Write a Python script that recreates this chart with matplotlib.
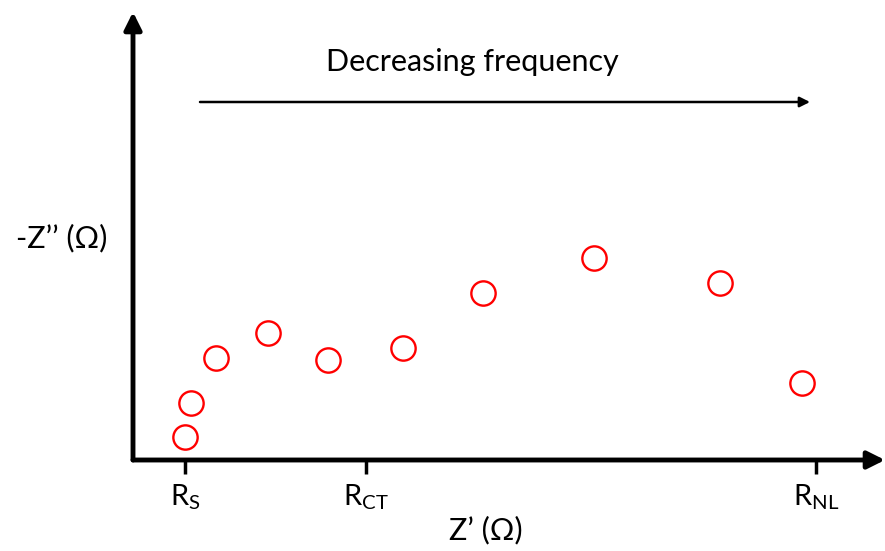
import matplotlib.pyplot as plt

plt.rcParams['font.family'] = ['Lato', 'DejaVu Sans']

# impedance points (arbitrary units)
zre = [52, 58, 83, 135, 195, 270, 350, 461, 587, 669]
zim = [23, 57, 102, 127, 100, 112, 167, 202, 177, 77]

tick_pos = [52, 233, 683]
tick_labels = [r'$\mathregular{R_S}$', r'$\mathregular{R_{CT}}$', r'$\mathregular{R_{NL}}$']

fig = plt.figure(figsize=(8.85, 5.51), dpi=100)
ax = fig.add_axes([133/885, 91/551, 752/885, 448/551])
ax.set_xlim(0, 752)
ax.set_ylim(0, 448)

ax.plot(zre, zim, 'o', ms=17.5, mfc='none', mec='red', mew=1.7, clip_on=False)

for s in ax.spines.values():
    s.set_visible(False)

# axis arrows
ax.annotate('', xy=(0, 1), xytext=(0, 0), xycoords='axes fraction',
            arrowprops=dict(arrowstyle='-|>', lw=3.5, color='black', mutation_scale=26,
                            shrinkA=0, shrinkB=0))
ax.annotate('', xy=(1, 0), xytext=(0, 0), xycoords='axes fraction',
            arrowprops=dict(arrowstyle='-|>', lw=3.5, color='black', mutation_scale=26,
                            shrinkA=0, shrinkB=0))

# frequency arrow
ax.annotate('', xy=(677, 358), xytext=(67, 358), xycoords='data',
            arrowprops=dict(arrowstyle='-|>', lw=1.8, color='black', mutation_scale=15,
                            shrinkA=0, shrinkB=0))
ax.text(339, 398, 'Decreasing frequency', ha='center', va='center', fontsize=22)

ax.set_xticks(tick_pos)
ax.set_xticklabels(tick_labels, fontsize=21)
ax.set_yticks([])
ax.tick_params(axis='x', direction='out', length=10, width=2.5, pad=6)

fig.text(486/885, 1 - 530/551, 'Z\u2019 (\u03a9)', fontsize=22, ha='center', va='center')
fig.text(62/885, 1 - 238/551, '-Z\u2019\u2019 (\u03a9)', fontsize=22, ha='center', va='center')

fig.savefig('out.png', dpi=100)
